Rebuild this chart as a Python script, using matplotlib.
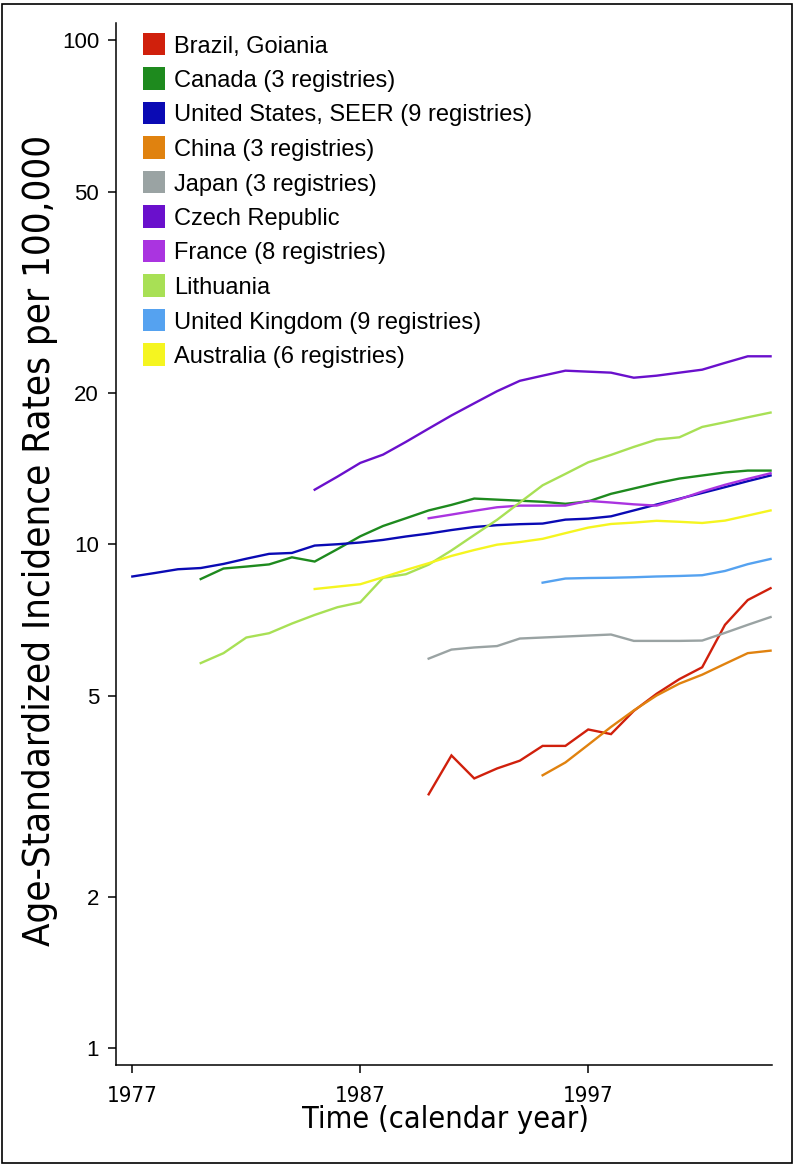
import numpy as np
import matplotlib
matplotlib.use("Agg")
import matplotlib.pyplot as plt
from matplotlib import font_manager as fm
from matplotlib.patches import Rectangle

# ---------------- data ----------------
labels = ["Brazil, Goiania", "Canada (3 registries)", "United States, SEER (9 registries)",
          "China (3 registries)", "Japan (3 registries)", "Czech Republic",
          "France (8 registries)", "Lithuania", "United Kingdom (9 registries)",
          "Australia (6 registries)"]
colors = ["#D0200C", "#1E8A1E", "#0A0AB4", "#E0820F", "#9AA3A3", "#6A10CC",
          "#AA34E0", "#A8E055", "#55A2F0", "#F5F520"]

brazil_years = list(range(1990, 2006))
brazil = [3.19, 3.81, 3.43, 3.59, 3.72, 3.98, 3.98, 4.29, 4.20, 4.67, 5.05, 5.40, 5.70, 6.92, 7.75, 8.18]

canada_years = list(range(1980, 2006))
canada = [8.53, 8.95, 9.03, 9.12, 9.42, 9.24, 9.78, 10.37, 10.87, 11.26, 11.67, 11.97, 12.32,
          12.26, 12.20, 12.14, 12.03, 12.16, 12.59, 12.90, 13.22, 13.50, 13.69, 13.88, 14.0, 14.0]

us_years = list(range(1977, 2006))
us = [8.63, 8.77, 8.92, 8.97, 9.14, 9.36, 9.57, 9.61, 9.94, 10.0, 10.08, 10.2, 10.36, 10.5,
      10.67, 10.82, 10.91, 10.96, 10.99, 11.19, 11.24, 11.36, 11.67, 11.99, 12.31, 12.64,
      12.98, 13.34, 13.69]

china_years = list(range(1995, 2006))
china = [3.48, 3.69, 4.00, 4.34, 4.68, 5.01, 5.29, 5.51, 5.79, 6.08, 6.15]

japan_years = list(range(1990, 2006))
japan = [5.93, 6.18, 6.24, 6.28, 6.50, 6.53, 6.56, 6.59, 6.62, 6.43, 6.43, 6.43, 6.44,
         6.67, 6.92, 7.17]

czech_years = list(range(1985, 2006))
czech = [12.83, 13.62, 14.5, 15.06, 15.96, 16.96, 18.01, 19.04, 20.12, 21.1, 21.6, 22.1,
         22.0, 21.9, 21.4, 21.6, 21.9, 22.2, 22.9, 23.6, 23.6]

france_years = list(range(1990, 2006))
france = [11.26, 11.45, 11.65, 11.84, 11.93, 11.93, 11.93, 12.19, 12.10, 12.0, 11.93, 12.28,
          12.72, 13.12, 13.48, 13.83]

lith_years = list(range(1980, 2006))
lith = [5.81, 6.08, 6.53, 6.66, 6.96, 7.24, 7.50, 7.67, 8.58, 8.72, 9.11, 9.72, 10.43, 11.18,
        12.1, 13.09, 13.79, 14.54, 15.04, 15.6, 16.13, 16.3, 17.09, 17.46, 17.86, 18.25]

uk_years = list(range(1995, 2006))
uk = [8.39, 8.55, 8.57, 8.58, 8.60, 8.63, 8.65, 8.68, 8.85, 9.13, 9.35]

aus_years = list(range(1985, 2006))
aus = [8.15, 8.24, 8.33, 8.60, 8.89, 9.17, 9.48, 9.74, 9.98, 10.1, 10.25, 10.52, 10.79,
       10.97, 11.04, 11.13, 11.08, 11.02, 11.14, 11.40, 11.67]

series_years = [brazil_years, canada_years, us_years, china_years, japan_years, czech_years,
                france_years, lith_years, uk_years, aus_years]
series_vals = [brazil, canada, us, china, japan, czech, france, lith, uk, aus]

ytick_vals = [1, 2, 5, 10, 20, 50, 100]
xtick_vals = [1977, 1987, 1997]

# ---------------- fonts ----------------
names = {f.name for f in fm.fontManager.ttflist}
if "Liberation Sans Narrow" in names:
    COND = dict(family="Liberation Sans Narrow")
elif any(f.name == "DejaVu Sans" and f.stretch == "condensed" for f in fm.fontManager.ttflist):
    COND = dict(family="DejaVu Sans", stretch="condensed")
else:
    COND = dict(family="Roboto")
REG = dict(family="Liberation Sans")

W, H = 793, 1164
fig = plt.figure(figsize=(W / 100, H / 100), dpi=100)

def fx(px):
    return px / W

def fy(py):
    return 1 - py / H

ax_l, ax_r, ax_t, ax_b = 115.7, 771.7, 23.0, 1064.7
ax = fig.add_axes([fx(ax_l), fy(ax_b), fx(ax_r) - fx(ax_l), fy(ax_t) - fy(ax_b)])

for yrs, vals, c in zip(series_years, series_vals, colors):
    ax.plot(yrs, vals, color=c, lw=1.7, solid_joinstyle="miter")

ax.set_yscale("log")
ax.set_xlim(1976.27, 2005.05)
ax.set_ylim(0.9275, 108.2)
ax.set_yticks(ytick_vals)
ax.set_yticklabels([str(v) for v in ytick_vals], fontsize=16, **REG)
ax.yaxis.set_minor_locator(matplotlib.ticker.NullLocator())
ax.set_xticks(xtick_vals)
ax.set_xticklabels([str(v) for v in xtick_vals], fontsize=16, **COND)
ax.tick_params(axis="both", direction="out", length=6, width=1.1, color="black")
ax.tick_params(axis="y", pad=6)
ax.tick_params(axis="x", pad=9)
for s in ["top", "right"]:
    ax.spines[s].set_visible(False)
for s in ["left", "bottom"]:
    ax.spines[s].set_linewidth(1.1)

# axis labels
fig.text(fx(446), fy(1120), "Time (calendar year)", ha="center", va="center",
         fontsize=22, **COND)
fig.text(fx(40), fy(540), "Age-Standardized Incidence Rates per 100,000", ha="center",
         va="center", rotation=90, fontsize=27.5, **COND)

# legend (color squares + labels)
row0, step = 44.0, 34.5
for i, (lab, c) in enumerate(zip(labels, colors)):
    yc = row0 + i * step
    fig.add_artist(Rectangle((fx(142.7), fy(yc + 11)), fx(22.3), 22 / H,
                             transform=fig.transFigure, facecolor=c, edgecolor="none"))
    fig.text(fx(174.3), fy(yc), lab, ha="left", va="center_baseline", fontsize=17, **REG)

# outer frame
fig.add_artist(Rectangle((fx(1.5), fy(1162.5)), fx(790), 1159 / H, transform=fig.transFigure,
                         facecolor="none", edgecolor="black", lw=1.2))

fig.savefig("out.png", dpi=100)
